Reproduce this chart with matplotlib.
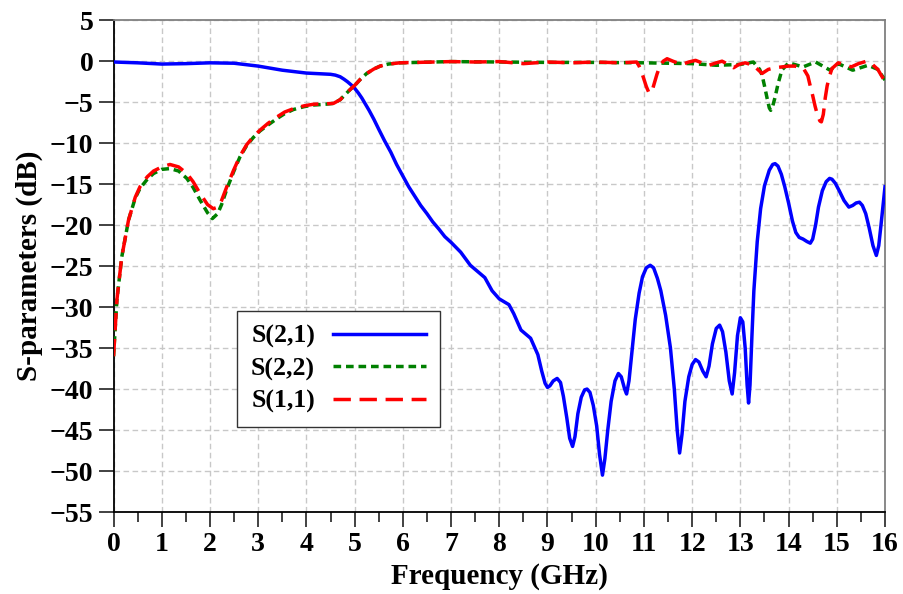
import matplotlib
matplotlib.use("Agg")
import matplotlib.pyplot as plt
from matplotlib.ticker import MultipleLocator

plt.rcParams['font.family'] = ['Liberation Serif', 'DejaVu Serif']
plt.rcParams['font.weight'] = 'bold'

s21_f = [0, 0.5, 1.0, 1.5, 2.0, 2.5, 3.0, 3.5, 4.0, 4.5, 4.6, 4.7, 4.78, 4.85, 4.93, 5.0,
         5.08, 5.15, 5.23, 5.3, 5.4, 5.5, 5.62, 5.75, 5.87, 6.0, 6.12, 6.25, 6.37, 6.5, 6.62,
         6.75, 6.87, 7.0, 7.2, 7.4, 7.6, 7.7, 7.85, 8.0, 8.2, 8.3, 8.45, 8.65, 8.8, 8.88,
         8.95, 9.0, 9.05, 9.12, 9.2, 9.27, 9.33, 9.4, 9.46, 9.52, 9.57, 9.63, 9.7, 9.77,
         9.82, 9.88, 9.95, 10.02, 10.08, 10.14, 10.19, 10.25, 10.32, 10.4, 10.47, 10.53,
         10.6, 10.64, 10.69, 10.75, 10.82, 10.9, 10.97, 11.05, 11.13, 11.2, 11.28, 11.35,
         11.45, 11.55, 11.63, 11.69, 11.74, 11.79, 11.85, 11.93, 12.0, 12.07, 12.14, 12.22,
         12.29, 12.35, 12.42, 12.5, 12.57, 12.63, 12.7, 12.77, 12.83, 12.88, 12.94, 13.0,
         13.05, 13.1, 13.14, 13.17, 13.2, 13.24, 13.28, 13.35, 13.42, 13.5, 13.6, 13.67,
         13.72, 13.78, 13.85, 13.92, 14.0, 14.08, 14.15, 14.22, 14.3, 14.38, 14.45, 14.5,
         14.56, 14.62, 14.7, 14.78, 14.85, 14.9, 14.97, 15.05, 15.15, 15.25, 15.33, 15.4,
         15.47, 15.53, 15.6, 15.67, 15.75, 15.82, 15.87, 15.92, 16.0]
s21_db = [-0.1, -0.2, -0.35, -0.3, -0.2, -0.25, -0.6, -1.1, -1.45, -1.6, -1.7, -1.9, -2.2,
          -2.5, -2.9, -3.3, -3.9, -4.5, -5.3, -6.0, -7.1, -8.3, -9.7, -11.1, -12.6, -14.0,
          -15.3, -16.5, -17.6, -18.6, -19.6, -20.5, -21.4, -22.1, -23.3, -24.9, -25.9,
          -26.4, -28.0, -29.0, -29.7, -30.8, -32.8, -33.8, -35.8, -37.8, -39.3, -39.8, -39.6,
          -39.0, -38.7, -39.2, -40.9, -43.5, -46.0, -47.0, -45.8, -43.0, -41.0, -40.1, -40.0,
          -40.4, -42.0, -44.5, -48.0, -50.5, -48.5, -45.0, -41.5, -39.0, -38.1, -38.5, -40.0,
          -40.6, -39.0, -35.5, -31.5, -28.3, -26.3, -25.2, -24.9, -25.2, -26.5, -28.0, -31.0,
          -35.0, -40.0, -45.0, -47.8, -45.5, -41.5, -38.5, -37.0, -36.4, -36.7, -37.8, -38.5,
          -37.2, -34.5, -32.6, -32.2, -33.0, -35.5, -39.0, -40.6, -38.0, -33.5, -31.3, -31.8,
          -35.0, -39.5, -41.7, -39.5, -33.5, -28.0, -22.0, -18.0, -15.2, -13.3, -12.6, -12.5,
          -12.8, -13.8, -15.3, -17.3, -19.5, -20.9, -21.5, -21.7, -22.0, -22.2, -21.7, -20.0,
          -17.8, -15.8, -14.7, -14.3, -14.4, -14.9, -15.8, -17.0, -17.8, -17.6, -17.3, -17.2,
          -17.6, -18.6, -20.3, -22.5, -23.7, -22.5, -19.8, -15.3]

s11_f = [0, 0.07, 0.17, 0.31, 0.45, 0.55, 0.7, 0.83, 1.0, 1.17, 1.35, 1.52, 1.65, 1.79,
         1.95, 2.07, 2.16, 2.24, 2.35, 2.49, 2.62, 2.76, 2.9, 3.04, 3.2, 3.39, 3.55, 3.73,
         3.95, 4.15, 4.4, 4.56, 4.7, 4.8, 4.9, 5.01, 5.12, 5.25, 5.4, 5.53, 5.7, 5.94, 6.3,
         7.0, 7.5, 8.0, 8.5, 9.0, 9.5, 10.0, 10.5, 10.85, 10.9, 10.95, 11.0, 11.05, 11.1,
         11.13, 11.17, 11.22, 11.27, 11.33, 11.4, 11.48, 11.6, 11.79, 11.93, 12.07, 12.2,
         12.35, 12.5, 12.62, 12.75, 12.86, 12.97, 13.1, 13.27, 13.45, 13.58, 13.72, 13.86,
         14.0, 14.13, 14.31, 14.4, 14.44, 14.5, 14.55, 14.6, 14.65, 14.68, 14.72, 14.76,
         14.8, 14.85, 14.9, 15.03, 15.15, 15.3, 15.45, 15.62, 15.72, 15.85, 16.0]
s11_db = [-36.0, -29.1, -23.9, -19.4, -16.6, -15.3, -14.1, -13.4, -12.9, -12.6, -12.9,
          -13.7, -14.7, -16.1, -17.5, -18.0, -17.8, -17.0, -15.3, -13.3, -11.6, -10.2, -9.2,
          -8.4, -7.6, -6.8, -6.2, -5.8, -5.45, -5.25, -5.2, -5.15, -4.7, -4.1, -3.5, -2.9,
          -2.2, -1.5, -0.95, -0.6, -0.35, -0.2, -0.15, -0.05, -0.1, -0.05, -0.3, -0.1, -0.2,
          -0.1, -0.2, -0.1, -0.6, -1.3, -2.2, -3.1, -3.8, -3.9, -3.6, -2.6, -1.6, -0.6, 0.0,
          0.3, 0.0, -0.4, -0.1, 0.1, -0.2, -0.5, -0.2, 0.0, -0.4, -0.8, -0.4, -0.2, -0.5,
          -1.5, -1.0, -0.8, -0.7, -0.6, -0.6, -0.9, -1.8, -2.8, -4.2, -5.5, -6.6, -7.3, -7.4,
          -6.5, -4.5, -3.0, -1.8, -0.9, -0.2, -0.4, -0.7, -0.3, 0.0, -0.3, -1.0, -2.5]

s22_f = [0, 0.07, 0.17, 0.31, 0.45, 0.55, 0.7, 0.83, 1.0, 1.17, 1.35, 1.52, 1.65, 1.79,
         1.95, 2.05, 2.16, 2.24, 2.35, 2.49, 2.62, 2.76, 2.9, 3.04, 3.2, 3.39, 3.55, 3.73,
         3.95, 4.15, 4.4, 4.56, 4.7, 4.8, 4.9, 5.01, 5.12, 5.25, 5.4, 5.53, 5.7, 5.94, 7.0,
         8.0, 9.0, 10.0, 11.0, 12.0, 12.5, 13.0, 13.27, 13.4, 13.45, 13.5, 13.55, 13.6,
         13.63, 13.67, 13.72, 13.78, 13.86, 14.0, 14.3, 14.56, 14.86, 15.03, 15.33, 15.65,
         15.85, 16.0]
s22_db = [-36.0, -29.1, -23.9, -19.4, -16.7, -15.5, -14.4, -13.7, -13.2, -13.1, -13.4,
          -14.3, -15.4, -16.9, -18.5, -19.2, -18.6, -17.5, -15.6, -13.5, -11.7, -10.3, -9.3,
          -8.5, -7.8, -7.0, -6.4, -5.9, -5.55, -5.35, -5.25, -5.15, -4.7, -4.1, -3.5, -2.9,
          -2.2, -1.5, -0.95, -0.6, -0.35, -0.2, -0.05, -0.1, -0.15, -0.15, -0.2, -0.3, -0.5,
          -0.4, -0.1, -1.0, -1.7, -3.0, -4.4, -5.7, -6.0, -5.5, -4.4, -2.8, -1.1, -0.2, -0.7,
          -0.1, -1.1, -0.3, -1.1, -0.5, -1.0, -2.3]

x_ticks = list(range(0, 17))
y_ticks = list(range(-55, 6, 5))

fig = plt.figure(figsize=(9.04, 5.94), dpi=100)
ax = fig.add_axes([0.1256, 0.138, 0.8534, 0.828])

ax.plot(s21_f, s21_db, color='#0000ff', lw=2.5, label='S(2,1)', zorder=5)
ax.plot(s22_f, s22_db, color='#008000', lw=2.5, ls=(0, (2.2, 1.4)), label='S(2,2)', zorder=4)
ax.plot(s11_f, s11_db, color='#ff0000', lw=2.5, ls=(0, (5, 2.5)), label='S(1,1)', zorder=6)

ax.set_xlim(0, 16)
ax.set_ylim(-55, 5)
ax.set_xticks(x_ticks)
ax.set_yticks(y_ticks)
ax.xaxis.set_minor_locator(MultipleLocator(0.5))
ax.set_yticklabels([str(v).replace('-', '\u2212') for v in y_ticks])

ax.grid(True, which='major', color='#c8c8c8', ls=(0, (4, 2.5)), lw=1.0)
ax.tick_params(axis='both', which='major', direction='out', length=11, width=1.3,
               labelsize=20, color='#333333')
ax.tick_params(axis='x', which='minor', direction='out', length=7, width=1.3, color='#333333')
ax.tick_params(axis='y', which='minor', left=False)
for lab in ax.get_xticklabels() + ax.get_yticklabels():
    lab.set_fontweight('bold')

ax.spines['left'].set_color('black')
ax.spines['bottom'].set_color('black')
ax.spines['top'].set_color('#808080')
ax.spines['right'].set_color('#808080')
for s in ax.spines.values():
    s.set_linewidth(1.3)

ax.set_xlabel('Frequency (GHz)', fontsize=21, fontweight='bold', labelpad=4)
ax.set_ylabel('S-parameters (dB)', fontsize=21, fontweight='bold', labelpad=5)

leg = ax.legend(loc='upper left', bbox_to_anchor=(0.16, 0.409), borderaxespad=0,
                prop={'family': 'Liberation Serif', 'weight': 'bold', 'size': 18.5},
                handlelength=3.6, handletextpad=0.7, fancybox=False, framealpha=1,
                edgecolor='#333333', markerfirst=False, borderpad=0.55, labelspacing=0.35)
leg.get_frame().set_linewidth(1.0)

fig.savefig('out.png', dpi=100)
